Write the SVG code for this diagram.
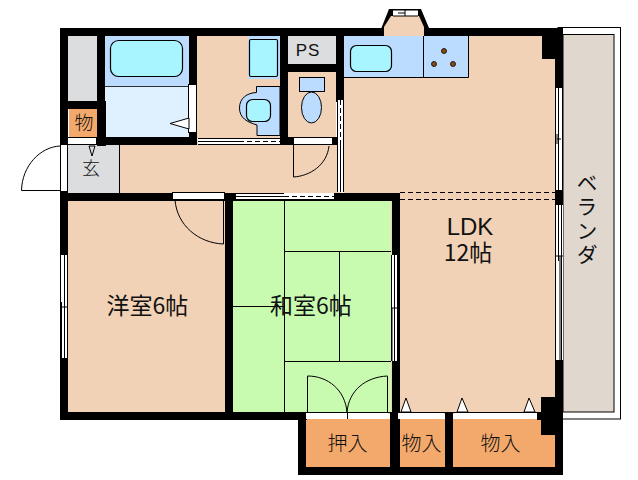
<svg xmlns="http://www.w3.org/2000/svg" width="638" height="480" viewBox="0 0 638 480">
<style>
.w{fill:#000}
.p{fill:#f2d2b6}
.o{fill:#f4a96c}
.g{fill:#dcdddf}
.t{fill:#c8fab0}
.b{fill:#bcdcff;stroke:#000;stroke-width:1}
.nb{fill:#bcdcff}
.c{fill:#a9f5ff;stroke:#000;stroke-width:1.2}
.l{fill:none;stroke:#000;stroke-width:1}
.d{fill:none;stroke:#000;stroke-width:1;stroke-dasharray:5 3}
.wh{fill:#fff}
.wl{fill:#fff;stroke:#000;stroke-width:1}
.tri{fill:#fff;stroke:#000;stroke-width:1}
text{font-family:"Noto Sans CJK JP","Liberation Sans",sans-serif;fill:#111}
.big{font-size:23px;text-anchor:middle}
.mid{font-size:20px;text-anchor:middle}
.thin{font-weight:300}
</style>
<rect width="638" height="480" fill="#fff"/>
<g id="veranda">
<rect x="558" y="27.5" width="62.5" height="391.5" fill="#fff" stroke="#000" stroke-width="1"/>
<rect x="563" y="34.5" width="51" height="377.5" fill="#e0d7cf" stroke="#000" stroke-width="1"/>
</g>
<g id="floors">
<rect class="p" x="344" y="30" width="212" height="384"/>
<rect class="p" x="119" y="140" width="222" height="55"/>
<rect class="p" x="197" y="36" width="84" height="103"/>
<rect class="p" x="288" y="72" width="48" height="66"/>
<rect class="p" x="68" y="196" width="157" height="217"/>
<polygon class="p" points="384,30 390,16 418,16 424,30"/>
<rect class="t" x="233" y="201" width="158" height="212"/>
<rect class="g" x="68" y="36" width="30" height="66"/>
<rect class="g" x="68" y="145" width="51" height="48"/>
<rect class="g" x="288" y="36" width="48" height="28"/>
<rect class="o" x="69" y="109" width="29" height="29"/>
<rect class="o" x="306" y="419" width="85" height="49"/>
<rect class="o" x="398" y="419" width="48" height="49"/>
<rect class="o" x="453" y="419" width="103" height="49"/>
<rect x="105" y="36" width="85" height="50" fill="#bcdcff"/>
<rect x="105" y="86" width="85" height="52" fill="#dff1ff"/>
</g>
<g id="walls">
<rect class="w" x="60" y="28" width="503" height="8"/>
<rect class="w" x="60" y="28" width="8" height="392"/>
<rect class="w" x="97" y="36" width="8" height="65"/>
<rect class="w" x="68" y="101" width="38" height="8"/>
<rect class="w" x="97" y="101" width="9" height="45"/>
<rect class="w" x="97" y="137" width="100" height="8"/>
<rect class="w" x="189" y="36" width="8" height="109"/>
<rect class="w" x="280" y="36" width="8" height="109"/>
<rect class="w" x="288" y="64" width="48" height="8"/>
<rect class="w" x="336" y="36" width="8" height="66"/>
<rect class="w" x="280" y="137" width="60" height="8"/>
<rect class="w" x="60" y="193" width="173" height="8"/>
<rect class="w" x="225" y="193" width="8" height="227"/>
<rect class="w" x="233" y="193" width="167" height="8"/>
<rect class="w" x="392" y="193" width="8" height="275"/>
<rect class="w" x="60" y="412" width="247" height="8"/>
<rect class="w" x="298" y="412" width="8" height="63"/>
<rect class="w" x="298" y="467" width="265" height="8"/>
<rect class="w" x="390" y="412" width="8" height="56"/>
<rect class="w" x="445" y="412" width="8" height="56"/>
<rect class="w" x="555" y="28" width="8" height="447"/>
<rect class="w" x="542" y="36" width="14" height="23"/>
<rect class="w" x="541" y="397" width="15" height="38"/>
<rect class="w" x="537" y="412" width="6" height="8"/>
<polygon class="w" points="381,29 389,9 421,9 429,28 432,28 432,36 381,36 381,30"/>
<polygon class="p" points="384,36 384,27 391,16 419,16 424,27 424,36"/>
</g>
<g id="openings">
<rect class="wh" x="393" y="10" width="25" height="6"/>
<path class="l" d="M393 10H418M393 16H418M405 10V16M398 13H405"/>
<rect class="wl" x="67.500" y="137.500" width="29" height="7"/>
<rect class="wl" x="60.500" y="144.500" width="7" height="47"/>
<rect class="wl" x="188.500" y="84.500" width="8" height="48"/>
<rect class="wh" x="198" y="138" width="82" height="7"/>
<path class="l" d="M198 138.500H280M198 144.500H280M198 141.500H239"/>
<path class="d" d="M239 141.500H280"/>
<rect class="wl" x="293.500" y="137.500" width="39" height="7"/>
<rect class="wh" x="337" y="100" width="7" height="92"/>
<path class="l" d="M337.500 100V192M343.500 192V100M340.500 145V192"/>
<path class="d" d="M340.500 100V145"/>
<rect class="wl" x="172.500" y="192.500" width="52" height="7"/>
<rect class="wh" x="236" y="193" width="98" height="7"/>
<path class="l" d="M236 193.500H284M236 199.500H334M236 196.500H284"/>
<path class="d" d="M284 196.500H334"/>
<rect class="wh" x="555" y="88" width="8" height="102"/>
<path class="l" d="M555.500 88V190M558.500 88V190M562.500 88V190M557 139H561M557 134V144"/>
<rect class="wh" x="555" y="205" width="8" height="155"/>
<path class="l" d="M555.500 205V360M561.500 205V360M558.500 205V256M556 256H563M558.500 251V261M560 256V360"/>
<rect class="wh" x="60" y="255" width="8" height="103"/>
<path class="l" d="M60.500 255V358M67.500 255V358M64.500 255V358M61.500 302V358M60 307H67"/>
<rect class="wh" x="391" y="255" width="7" height="106"/>
<path class="l" d="M391.500 255V361M397.500 255V361M394.500 255V361M392 308V361M391 308H397"/>
<rect class="wh" x="306" y="413" width="82" height="6"/>
<path class="l" d="M306 412.500H390M347.500 412V419"/>
<rect class="wh" x="398" y="413" width="46" height="6"/>
<rect class="wh" x="455" y="413" width="82" height="6"/>
<path class="l" d="M398 412.500H541"/>
<path class="d" d="M400 192.500H555M400 199.500H555"/>
</g>
<g id="doors">
<path class="l" d="M60 146C40 147 22 166 21.500 190.500H60"/>
<path class="l" d="M293.500 145V177C310 176 327 165 329 146"/>
<path class="l" d="M175 200C177 225 198 243 223.500 244V200"/>
<path class="l" d="M307.500 412V376C328 376 345 390 347 412C349 390 366 377 387.500 376V412"/>
<path class="tri" d="M170 123.500L189 118V129Z"/>
<path class="tri" d="M401 412L406 398L411 412Z"/>
<path class="tri" d="M457 412L462 398L468 412Z"/>
<path class="tri" d="M524 412L529 398L535 412Z"/>
<path class="tri" d="M89 146L92 156L95 146Z" style="fill:#dcdddf"/>
</g>
<g id="tatami">
<path class="l" d="M284.500 201V412M284.500 251.500H391M339.500 251.500V361M284.500 361.500H391M233 306.500H284"/>
</g>
<g id="fixtures">
<rect x="105" y="86" width="84" height="0.800" fill="#000"/>
<rect class="c" x="110.500" y="40.500" width="72" height="36" rx="8"/>
<rect class="nb" x="248" y="36" width="32" height="43"/>
<rect class="c" x="249.500" y="39.500" width="28" height="37" rx="1.500"/>
<path class="b" d="M280 86.500H256.500V92.500C247 93 239.500 98 239.500 108C239.500 118 247 122 257 125V135.500H280Z"/>
<rect class="c" x="246.500" y="99.500" width="24" height="22" rx="6"/>
<rect class="b" x="299.500" y="77.500" width="25" height="14"/>
<ellipse class="b" cx="311.500" cy="107.500" rx="10" ry="15.500"/>
<rect class="nb" x="344" y="36" width="124" height="41"/>
<path class="l" d="M344 77.500H468.500V36M423.500 36V77.500"/>
<rect class="c" x="350.500" y="45.500" width="41" height="26" rx="6"/>
<g fill="#8b4a10" stroke="#000" stroke-width="0.800">
<circle cx="444" cy="51" r="2.500"/>
<circle cx="434" cy="64" r="2.500"/>
<circle cx="453" cy="64" r="2.500"/>
</g>
<path class="l" d="M119.500 145V193"/>
</g>
<g id="labels">
<text class="big" x="147.500" y="314">洋室6帖</text>
<text class="big" x="311" y="314">和室6帖</text>
<text class="big"><tspan x="470" y="235" style="font-family:'Liberation Sans',sans-serif;font-size:24px">LDK</tspan><tspan x="468" y="261">12帖</tspan></text>
<text class="mid thin" x="347.500" y="451">押入</text>
<text class="mid thin" x="421.500" y="451">物入</text>
<text class="mid thin" x="500.500" y="451">物入</text>
<text class="thin" x="84" y="130" style="font-size:19px;text-anchor:middle">物</text>
<text class="thin" x="91" y="175" style="font-size:18px;text-anchor:middle">玄</text>
<text x="308" y="56" style="font-size:17px;text-anchor:middle;font-family:'Liberation Sans',sans-serif;letter-spacing:1px">PS</text>
<text x="587" y="172" style="font-size:21px;writing-mode:vertical-rl;letter-spacing:3px">ベランダ</text>
</g>
</svg>
